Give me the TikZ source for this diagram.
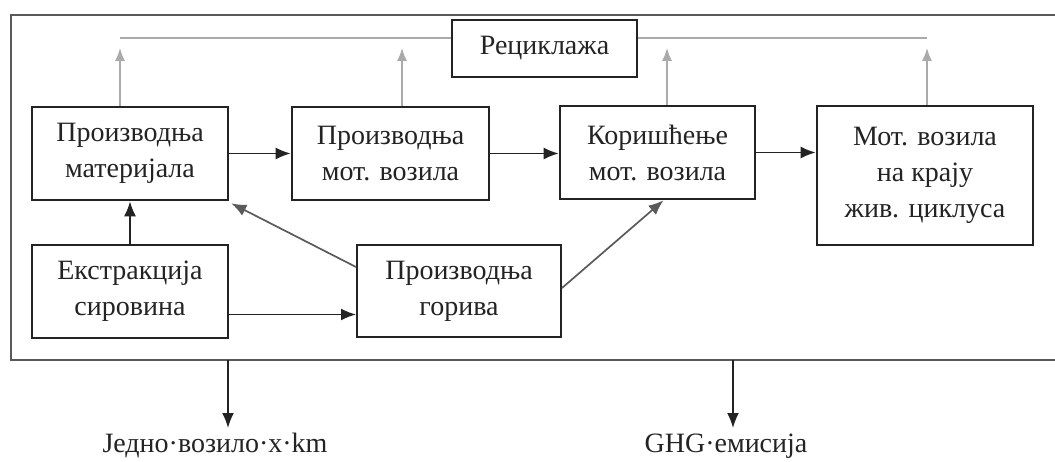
\documentclass[tikz,border=0pt]{standalone}
\usepackage{fontspec}
\setmainfont{Liberation Serif}
\usetikzlibrary{arrows.meta}
\definecolor{ink}{RGB}{35,35,35}
\definecolor{midgray}{RGB}{90,90,90}
\definecolor{lightgray}{RGB}{170,170,170}
\begin{document}
\begin{tikzpicture}[x=1pt,y=-1pt,
  stage/.style={draw=ink, line width=2.7pt, align=center, inner sep=0pt,
    font=\fontsize{28}{36}\selectfont, text=ink},
  flow/.style={draw=ink, line width=1.7pt, -{Latex[length=15pt,width=12pt]}},
  sideflow/.style={draw=midgray, line width=1.7pt, -{Latex[length=15pt,width=12pt]}},
  recflow/.style={draw=lightgray, line width=1.5pt, -{Latex[length=13pt,width=10pt]}},
  outflow/.style={draw=ink, line width=1.7pt, -{Latex[length=15pt,width=12pt]}},
  caption/.style={font=\fontsize{28}{34}\selectfont, text=ink, anchor=base, inner sep=0pt}]
\useasboundingbox (0,0) rectangle (1055,462);
\fill[white] (0,0) rectangle (1055,462);

% open system boundary
\draw[draw=gray!70!black, line width=2pt] (1055,15) -- (11,15) -- (11,360) -- (1055,360);

% life-cycle stages
\node[stage, minimum width=196pt, minimum height=93pt] (mat) at (130,153.5) {Производња\\материјала};
\node[stage, minimum width=197pt, minimum height=93pt] (veh) at (390.5,153.5) {Производња\\мот. возила};
\node[stage, minimum width=195pt, minimum height=93pt] (use) at (657.5,152.5) {Коришћење\\мот. возила};
\node[stage, minimum width=216pt, minimum height=139pt] (eol) at (925,175.5) {Мот. возила\\на крају\\жив. циклуса};
\node[stage, line width=2pt, minimum width=196pt, minimum height=93pt] (ext) at (130,291.5) {Екстракција\\сировина};
\node[stage, line width=2pt, minimum width=204pt, minimum height=92pt] (fuel) at (459,291) {Производња\\горива};
\node[stage, line width=2.2pt, minimum width=185pt, minimum height=57pt] (rec) at (544.5,48.5) {Рециклажа};

% main flows
\draw[flow] (mat.east) -- (veh.west);
\draw[flow] (veh.east) -- (veh.east -| use.west);
\draw[flow] (use.east) -- (use.east -| eol.west);
\draw[flow] (ext.north) -- (mat.south);
\draw[flow] ([yshift=-23pt]ext.east) -- ([yshift=-23pt]ext.east -| fuel.west);
\draw[sideflow] ([yshift=24pt]fuel.west) -- ([shift={(2pt,-2pt)}]mat.south east);
\draw[sideflow] ([yshift=3pt]fuel.east) -- ([xshift=6pt]use.south);

% recycling loop
\coordinate (rl) at (120,38);
\coordinate (rr) at (927,38);
\draw[draw=lightgray, line width=1.5pt] (rl) -- (rl -| rec.west);
\draw[draw=lightgray, line width=1.5pt] (rr -| rec.east) -- (rr);
\coordinate (t1) at (120,48);
\coordinate (t2) at (402,48);
\coordinate (t3) at (667,48);
\coordinate (t4) at (927,48);
\draw[recflow] (mat.north -| t1) -- (t1);
\draw[recflow] (veh.north -| t2) -- (t2);
\draw[recflow] (use.north -| t3) -- (t3);
\draw[recflow] (eol.north -| t4) -- (t4);

% outputs of the system
\coordinate (o1) at (228,360);
\coordinate (o2) at (733,360);
\coordinate (e1) at (228,428);
\coordinate (e2) at (733,428);
\draw[outflow] (o1) -- (e1);
\draw[outflow] (o2) -- (e2);
\node[caption] (fu) at (215,452) {Једно·возило·x·km};
\node[caption] (ghg) at (726,452) {GHG·емисија};
\end{tikzpicture}
\end{document}
